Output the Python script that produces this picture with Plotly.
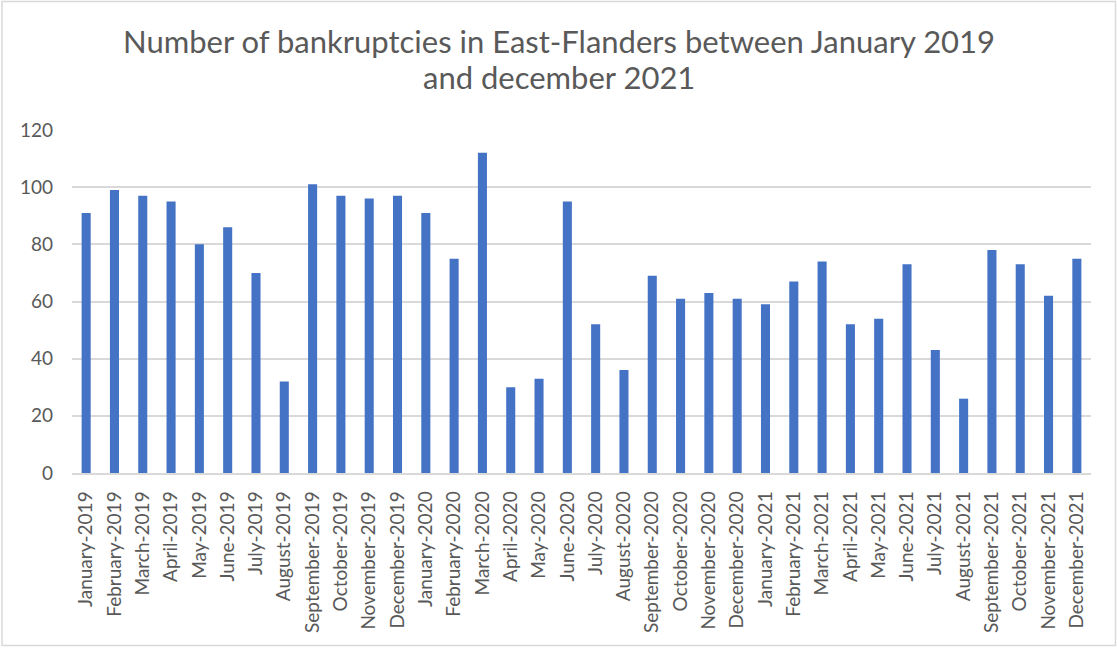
import plotly.graph_objects as go

months = ["January", "February", "March", "April", "May", "June", "July",
          "August", "September", "October", "November", "December"]
years = ["2019", "2020", "2021"]
categories = [f"{m}-{y}" for y in years for m in months]

bankruptcies = [91, 99, 97, 95, 80, 86, 70, 32, 101, 97, 96, 97,
                91, 75, 112, 30, 33, 95, 52, 36, 69, 61, 63, 61,
                59, 67, 74, 52, 54, 73, 43, 26, 78, 73, 62, 75]

y_ticks = [0, 20, 40, 60, 80, 100, 120]

title_lines = ["Number of bankruptcies in East-Flanders between January 2019",
               "and december 2021"]

W, H = 1117, 648
ml, mr, mt, mb = 72, 26, 130, 175
pw = W - ml - mr
ph = H - mt - mb


def px_x(p):
    return (p - ml) / pw


def px_y(p):
    return (H - mb - p) / ph


fig = go.Figure(go.Bar(
    x=categories, y=bankruptcies,
    marker=dict(color="#4472C4", line=dict(width=0)),
))

fig.update_layout(
    width=W, height=H,
    margin=dict(l=ml, r=mr, t=mt, b=mb, autoexpand=False),
    paper_bgcolor="white", plot_bgcolor="white",
    bargap=0.68,
    showlegend=False,
    font=dict(family="Lato", color="#595959", size=19),
    xaxis=dict(
        type="category", tickangle=-90, showgrid=False,
        showline=True, linecolor="#D9D9D9", linewidth=1.5,
        ticks="", ticklabelstandoff=9, automargin=False,
        tickfont=dict(family="Lato", size=19, color="#595959"),
    ),
    yaxis=dict(
        range=[0, 120], tickvals=y_ticks, showgrid=True,
        gridcolor="#D9D9D9", gridwidth=1.5, zeroline=False,
        showline=False, ticks="", ticklabelstandoff=18, automargin=False,
        tickfont=dict(family="Lato", size=19, color="#595959"),
    ),
)

for line, p in zip(title_lines, [41, 77]):
    fig.add_annotation(
        text=line, showarrow=False, xref="paper", yref="paper",
        x=px_x(W / 2), y=px_y(p), xanchor="center", yanchor="middle",
        font=dict(family="Lato", size=31, color="#595959"),
    )

# outer chart border
fig.add_shape(
    type="rect", xref="paper", yref="paper",
    x0=px_x(2), x1=px_x(W - 1.5), y0=px_y(H - 2.5), y1=px_y(1.5),
    line=dict(color="#D9D9D9", width=1.5), layer="below",
)

fig.write_html("out.html", config={"displayModeBar": False},
               post_script="document.body.style.margin='0px';")
